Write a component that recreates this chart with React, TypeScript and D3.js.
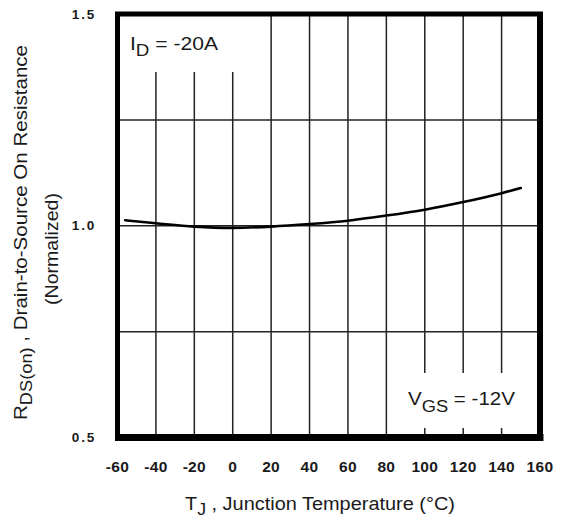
import React from "react";
import * as d3 from "d3";

const temps = [-56, -40, -20, 0, 20, 40, 60, 80, 100, 120, 140, 150];
const resist = [1.013, 1.006, 0.998, 0.995, 0.998, 1.004, 1.012, 1.024, 1.038, 1.056, 1.077, 1.089];
const xTicks = [-60, -40, -20, 0, 20, 40, 60, 80, 100, 120, 140, 160];
const yTicks = [0.5, 1.0, 1.5];
const yGrid = [0.75, 1.0, 1.25];

const W = 567;
const H = 520;
const L = 117.5, R = 540, T = 14, B = 437.5;

export default function App() {
  const x = d3.scaleLinear().domain([-60, 160]).range([L, R]);
  const y = d3.scaleLinear().domain([0.5, 1.5]).range([B, T]);
  const pts: [number, number][] = temps.map((t, i) => [t, resist[i]]);
  const line = d3
    .line<[number, number]>()
    .x((d) => x(d[0]))
    .y((d) => y(d[1]))
    .curve(d3.curveMonotoneX);
  const font = "'Liberation Sans', Arial, sans-serif";
  const ink = "#1a1a1a";
  const innerX = xTicks.slice(1, -1);
  return (
    <svg
      width={W}
      height={H}
      style={{ position: "absolute", left: 0, top: 0, background: "#fff" }}
      fontFamily={font}
    >
      <rect x={0} y={0} width={W} height={H} fill="#fff" />
      {/* grid */}
      {innerX.map((t) => (
        <line key={"vx" + t} x1={x(t)} x2={x(t)} y1={T} y2={B} stroke="#222" strokeWidth={1.5} />
      ))}
      {yGrid.map((v) => (
        <line key={"hy" + v} x1={L} x2={R} y1={y(v)} y2={y(v)} stroke="#222" strokeWidth={1.5} />
      ))}
      {/* label boxes */}
      <rect x={L + 2} y={T + 2} width={x(10) - L - 2} height={72 - T - 2} fill="#fff" />
      <rect x={x(88)} y={373} width={R - 3 - x(88)} height={428 - 373} fill="#fff" />
      {/* curve */}
      <path d={line(pts) || ""} fill="none" stroke="#000" strokeWidth={2.6} strokeLinecap="round" />
      {/* frame */}
      <line x1={L - 2.5} x2={R + 3} y1={T} y2={T} stroke="#000" strokeWidth={5} />
      <line x1={L - 2.5} x2={R + 3.5} y1={B} y2={B} stroke="#000" strokeWidth={7} />
      <line x1={L} x2={L} y1={T} y2={B} stroke="#000" strokeWidth={5} />
      <line x1={R} x2={R} y1={T} y2={B} stroke="#000" strokeWidth={6} />
      {/* y tick labels */}
      {yTicks.map((v) => (
        <text
          key={"yt" + v}
          x={96}
          y={y(v)}
          dy="0.35em"
          textAnchor="end"
          fontSize={13.5}
          fontWeight="bold"
          letterSpacing={1.8}
          fill={ink}
        >
          {v.toFixed(1)}
        </text>
      ))}
      {/* x tick labels */}
      {xTicks.map((t) => (
        <text
          key={"xt" + t}
          x={x(t)}
          y={467}
          dy="0.35em"
          textAnchor="middle"
          fontSize={15.5}
          fontWeight="bold"
          letterSpacing={0.3}
          fill={ink}
        >
          {t}
        </text>
      ))}
      {/* annotations */}
      <text x={130} y={50} fontSize={18} fill={ink} textLength={88} lengthAdjust="spacingAndGlyphs">
        I<tspan fontSize={16} dy={6}>D</tspan>
        <tspan dy={-6}> = -20A</tspan>
      </text>
      <text x={408} y={405} fontSize={18} fill={ink} textLength={107} lengthAdjust="spacingAndGlyphs">
        V<tspan fontSize={16} dy={7}>GS</tspan>
        <tspan dy={-7}> = -12V</tspan>
      </text>
      {/* x title */}
      <text x={185} y={510} fontSize={18} fill={ink} textLength={270} lengthAdjust="spacingAndGlyphs">
        T<tspan fontSize={16} dy={5}>J</tspan>
        <tspan dy={-5}> , Junction Temperature (°C)</tspan>
      </text>
      {/* y title */}
      <text
        transform={`translate(27, 420) rotate(-90)`}
        fontSize={18}
        fill={ink}
        textLength={375}
        lengthAdjust="spacingAndGlyphs"
      >
        R<tspan fontSize={16} dy={5}>DS(on)</tspan>
        <tspan dy={-5}> , Drain-to-Source On Resistance</tspan>
      </text>
      <text
        transform={`translate(58, 305) rotate(-90)`}
        fontSize={18}
        fill={ink}
        textLength={112}
        lengthAdjust="spacingAndGlyphs"
      >
        (Normalized)
      </text>
    </svg>
  );
}
